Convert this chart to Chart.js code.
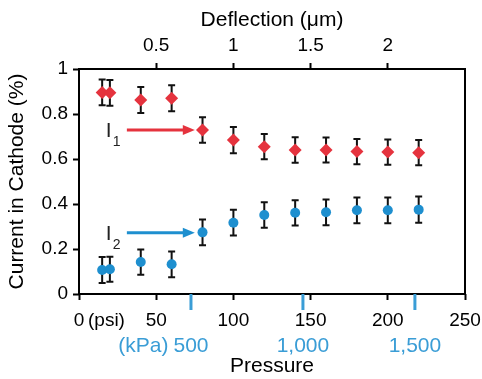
<!DOCTYPE html>
<html>
<head>
<meta charset="utf-8">
<script src="https://cdn.jsdelivr.net/npm/chart.js@4"></script>
<style>
  html,body{margin:0;padding:0;background:#fff;}
  #wrap{width:482px;height:379px;position:relative;}
</style>
</head>
<body>
<div id="wrap"><canvas id="chart"></canvas></div>
<script>
// ── Data ────────────────────────────────────────────────────────────────────
const PSI      = [15, 20, 40, 60, 80, 100, 120, 140, 160, 180, 200, 220];
const I1       = [0.896, 0.894, 0.862, 0.870, 0.729, 0.684, 0.655, 0.640, 0.640, 0.633, 0.631, 0.628];
const I1_ERR   = [0.057, 0.057, 0.058, 0.058, 0.057, 0.058, 0.056, 0.057, 0.056, 0.056, 0.056, 0.056];
const I2       = [0.107, 0.110, 0.142, 0.132, 0.274, 0.317, 0.351, 0.361, 0.363, 0.372, 0.372, 0.375];
const I2_ERR   = [0.058, 0.056, 0.056, 0.057, 0.057, 0.057, 0.057, 0.056, 0.057, 0.057, 0.057, 0.058];

const PSI_TICKS  = [0, 50, 100, 150, 200, 250];
const Y_TICKS    = [0, 0.2, 0.4, 0.6, 0.8, 1];
const DEFL_TICKS = [0.5, 1, 1.5, 2];
const DEFL_MAX   = 2.5;
const KPA_TICKS  = [500, 1000, 1500];
const KPA_LABELS = ['500', '1,000', '1,500'];
const KPA_PER_PSI = 6.89476;

// arrows I1 / I2 (psi from -> to, value)
const ARROW_FROM = 31, ARROW_TO = 75;
const ARROW_Y    = [0.729, 0.272];
const ARROW_SUB  = ['1', '2'];

const RED='#E5333E', BLUE='#1E8FCF', KPA_BLUE='#3A9DD6';
const FONT='"Liberation Sans", Arial, Helvetica, sans-serif';

// ── Plugins ─────────────────────────────────────────────────────────────────
const errorBars = {
  id:'errorBars',
  beforeDatasetsDraw(chart){
    const {ctx, scales:{x,y}} = chart;
    ctx.save();
    ctx.strokeStyle='#111'; ctx.lineWidth=2;
    [[I1,I1_ERR],[I2,I2_ERR]].forEach(([vals,errs])=>{
      vals.forEach((v,i)=>{
        const px=x.getPixelForValue(PSI[i]);
        const t=y.getPixelForValue(v+errs[i]), b=y.getPixelForValue(v-errs[i]);
        ctx.beginPath();
        ctx.moveTo(px,t); ctx.lineTo(px,b);
        ctx.moveTo(px-3.5,t); ctx.lineTo(px+3.5,t);
        ctx.moveTo(px-3.5,b); ctx.lineTo(px+3.5,b);
        ctx.stroke();
      });
    });
    ctx.restore();
  }
};

const extras = {
  id:'extras',
  afterDraw(chart){
    const {ctx, chartArea:a, scales:{x,y}} = chart;
    ctx.save();
    // frame
    ctx.strokeStyle='#000'; ctx.lineWidth=2;
    ctx.strokeRect(a.left, a.top, a.right-a.left, a.bottom-a.top);

    // (psi) next to 0
    ctx.fillStyle='#000'; ctx.font=`19px ${FONT}`;
    ctx.textAlign='left'; ctx.textBaseline='middle';
    ctx.fillText('(psi)', x.getPixelForValue(0)+9, a.bottom+27);

    // kPa ticks + labels
    ctx.strokeStyle=KPA_BLUE; ctx.lineWidth=3;
    ctx.fillStyle=KPA_BLUE; ctx.font=`21px ${FONT}`;
    KPA_TICKS.forEach((k,i)=>{
      const px=x.getPixelForValue(k/KPA_PER_PSI);
      ctx.beginPath(); ctx.moveTo(px,a.bottom); ctx.lineTo(px,a.bottom+16); ctx.stroke();
      ctx.textAlign='center';
      ctx.fillText(KPA_LABELS[i], px, a.bottom+52);
      if (i===0) {
        const w=ctx.measureText(KPA_LABELS[i]).width;
        ctx.textAlign='right';
        ctx.fillText('(kPa)', px-w/2-5, a.bottom+52);
      }
    });

    // arrows with I1 / I2 labels
    [RED, BLUE].forEach((col,i)=>{
      const x0=x.getPixelForValue(ARROW_FROM), x1=x.getPixelForValue(ARROW_TO);
      const py=y.getPixelForValue(ARROW_Y[i]);
      ctx.strokeStyle=col; ctx.fillStyle=col; ctx.lineWidth=3;
      ctx.beginPath(); ctx.moveTo(x0,py); ctx.lineTo(x1-10,py); ctx.stroke();
      ctx.beginPath(); ctx.moveTo(x1,py); ctx.lineTo(x1-12,py-5); ctx.lineTo(x1-12,py+5); ctx.closePath(); ctx.fill();
      ctx.fillStyle='#222';
      ctx.textAlign='left'; ctx.textBaseline='middle';
      ctx.font=`21px ${FONT}`;
      ctx.fillText('I', x0-21, py+1);
      ctx.font=`14px ${FONT}`;
      ctx.fillText(ARROW_SUB[i], x0-14, py+12);
    });
    ctx.restore();
  }
};

// ── Chart ───────────────────────────────────────────────────────────────────
const tickFont={family:FONT, size:19};
const titleFont={family:FONT, size:21};
const gridOpts={drawOnChartArea:false, drawTicks:true, tickLength:6, tickWidth:2, tickColor:'#000'};
// fixed box sizes, no extra label padding pushed into the layout
const fixBox=(w,h)=>s=>{
  if (w!=null) s.width=w;
  if (h!=null) s.height=h;
  s.paddingLeft=s.paddingRight=s.paddingTop=s.paddingBottom=0;
};

new Chart(document.getElementById('chart'), {
  type:'scatter',
  data:{ datasets:[
    { label:'I1', data:PSI.map((p,i)=>({x:p,y:I1[i]})), pointStyle:'rectRot',
      pointRadius:6.5, backgroundColor:RED, borderColor:RED, borderWidth:0 },
    { label:'I2', data:PSI.map((p,i)=>({x:p,y:I2[i]})), pointStyle:'circle',
      pointRadius:5, backgroundColor:BLUE, borderColor:BLUE, borderWidth:0 },
  ]},
  options:{
    responsive:true, maintainAspectRatio:false, animation:false,
    layout:{ padding:{left:0, top:0, right:17, bottom:0} },
    plugins:{ legend:{display:false}, tooltip:{enabled:false} },
    scales:{
      x:{ type:'linear', position:'bottom', min:0, max:250,
          afterBuildTicks:s=>{ s.ticks=PSI_TICKS.map(v=>({value:v})); },
          afterFit:fixBox(null,85),
          ticks:{ font:tickFont, color:'#000', padding:9, maxRotation:0, autoSkip:false, callback:v=>String(v) },
          grid:gridOpts, border:{display:false},
          title:{ display:true, text:'Pressure', font:titleFont, color:'#000', padding:{top:0,bottom:0} } },
      x2:{ type:'linear', position:'top', min:0, max:DEFL_MAX,
          afterBuildTicks:s=>{ s.ticks=DEFL_TICKS.map(v=>({value:v})); },
          afterFit:fixBox(null,69),
          ticks:{ font:tickFont, color:'#000', padding:6, maxRotation:0, autoSkip:false, callback:v=>String(v) },
          grid:gridOpts, border:{display:false},
          title:{ display:true, text:'Deflection (μm)', font:titleFont, color:'#000', padding:{top:8,bottom:0} } },
      y:{ type:'linear', min:0, max:1,
          afterBuildTicks:s=>{ s.ticks=Y_TICKS.map(v=>({value:v})); },
          afterFit:fixBox(79,null),
          ticks:{ font:tickFont, color:'#000', padding:5, autoSkip:false, callback:v=>String(v) },
          grid:gridOpts, border:{display:false},
          title:{ display:true, text:'Current in Cathode (%)', font:titleFont, color:'#000', padding:{top:5,bottom:0} } },
    },
  },
  plugins:[errorBars, extras],
});
</script>
</body>
</html>
